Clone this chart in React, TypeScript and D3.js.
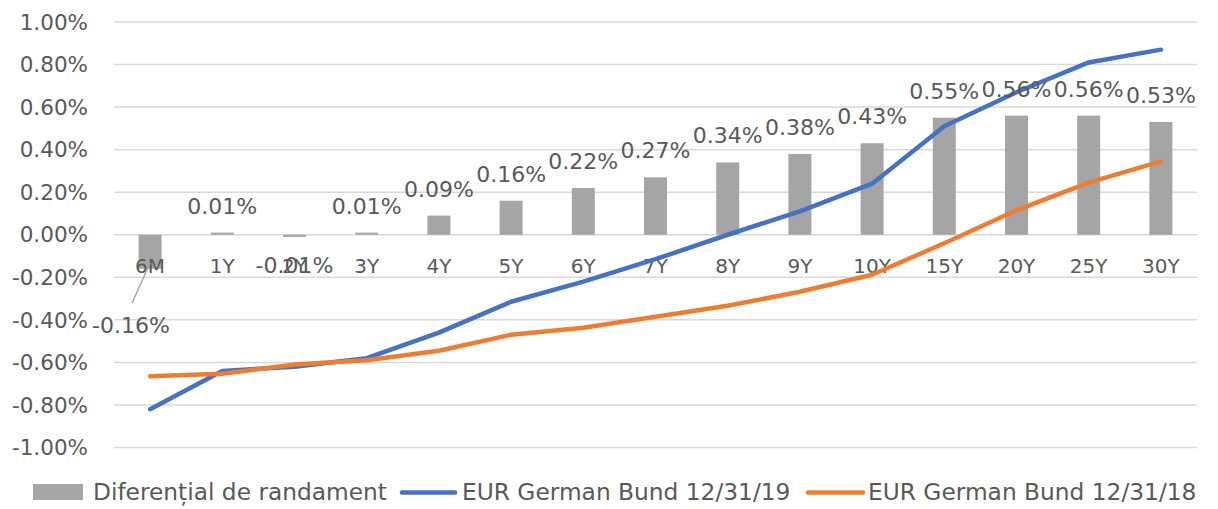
import React from "react";
import * as d3 from "d3";

const categories = ["6M", "1Y", "2Y", "3Y", "4Y", "5Y", "6Y", "7Y", "8Y", "9Y", "10Y", "15Y", "20Y", "25Y", "30Y"];
const spread = [-0.16, 0.01, -0.01, 0.01, 0.09, 0.16, 0.22, 0.27, 0.34, 0.38, 0.43, 0.55, 0.56, 0.56, 0.53];
const bund2019 = [-0.82, -0.64, -0.62, -0.58, -0.46, -0.315, -0.22, -0.115, 0.0, 0.11, 0.24, 0.51, 0.67, 0.81, 0.87];
const bund2018 = [-0.665, -0.653, -0.61, -0.59, -0.545, -0.47, -0.437, -0.385, -0.334, -0.268, -0.188, -0.04, 0.115, 0.245, 0.345];
const yTicks = [1.0, 0.8, 0.6, 0.4, 0.2, 0.0, -0.2, -0.4, -0.6, -0.8, -1.0];
const seriesNames = ["Diferențial de randament", "EUR German Bund 12/31/19", "EUR German Bund 12/31/18"];

const W = 1218;
const H = 509;
const FONT = "'DejaVu Sans', sans-serif";
const TEXT = "#595959";
const GRID = "#d9d9d9";
const BAR = "#a5a5a5";
const BLUE = "#4472c4";
const ORANGE = "#ed7d31";

export default function App() {
  const x = d3.scaleBand<string>().domain(categories).range([114, 1197]).padding(0);
  const y = d3.scaleLinear().domain([-1, 1]).range([447.5, 22]);
  const bw = 23;
  const cx = (c: string) => (x(c) as number) + x.bandwidth() / 2;
  const fmt = (v: number) => (Math.abs(v) < 1e-9 ? 0 : v).toFixed(2) + "%";

  const line = d3
    .line<number>()
    .x((_, i) => cx(categories[i]))
    .y((d) => y(d));

  const legendItems = [
    { kind: "bar", x0: 33, x1: 83, tx: 93, name: seriesNames[0], color: BAR },
    { kind: "line", x0: 402, x1: 455, tx: 462, name: seriesNames[1], color: BLUE },
    { kind: "line", x0: 808, x1: 863, tx: 868, name: seriesNames[2], color: ORANGE },
  ];

  return (
    <svg width={W} height={H} style={{ position: "absolute", left: 0, top: 0, background: "#fff" }} fontFamily={FONT}>
      <rect x={0} y={0} width={W} height={H} fill="#fff" />
      {yTicks.map((t) => (
        <line key={"g" + t} x1={114} x2={1197} y1={y(t)} y2={y(t)} stroke={GRID} strokeWidth={1.5} />
      ))}
      {yTicks.map((t) => (
        <text key={"t" + t} x={88} y={y(t)} dy="0.36em" textAnchor="end" fontSize={21.5} fill={TEXT}>
          {fmt(t)}
        </text>
      ))}
      {spread.map((v, i) => {
        const c = categories[i];
        const y0 = y(0);
        const yv = y(v);
        return (
          <rect key={"b" + c} x={cx(c) - bw / 2} y={Math.min(y0, yv)} width={bw} height={Math.max(1, Math.abs(yv - y0))} fill={BAR} />
        );
      })}
      {categories.map((c) => (
        <text key={"c" + c} x={cx(c)} y={273} textAnchor="middle" fontSize={20} fill={TEXT}>
          {c}
        </text>
      ))}
      <path d={line(bund2019) || ""} fill="none" stroke={BLUE} strokeWidth={4.5} strokeLinecap="round" strokeLinejoin="round" />
      <path d={line(bund2018) || ""} fill="none" stroke={ORANGE} strokeWidth={4.5} strokeLinecap="round" strokeLinejoin="round" />
      {spread.map((v, i) => {
        const c = categories[i];
        if (i === 0) {
          return (
            <g key={"l" + c}>
              <line x1={cx(c)} y1={263} x2={132} y2={303} stroke="#a6a6a6" strokeWidth={1.5} />
              <text x={131} y={333} textAnchor="middle" fontSize={22} fill={TEXT}>
                {fmt(v)}
              </text>
            </g>
          );
        }
        const ly = v >= 0 ? y(v) - 19 : y(v) + 36;
        return (
          <text key={"l" + c} x={cx(c)} y={ly} textAnchor="middle" fontSize={22} fill={TEXT}>
            {fmt(v)}
          </text>
        );
      })}
      {legendItems.map((it) => (
        <g key={it.name}>
          {it.kind === "bar" ? (
            <rect x={it.x0} y={484} width={it.x1 - it.x0} height={16} fill={it.color} />
          ) : (
            <line x1={it.x0} x2={it.x1} y1={492.5} y2={492.5} stroke={it.color} strokeWidth={4.5} strokeLinecap="round" />
          )}
          <text x={it.tx} y={500} fontSize={23.3} fill={TEXT}>
            {it.name}
          </text>
        </g>
      ))}
    </svg>
  );
}
